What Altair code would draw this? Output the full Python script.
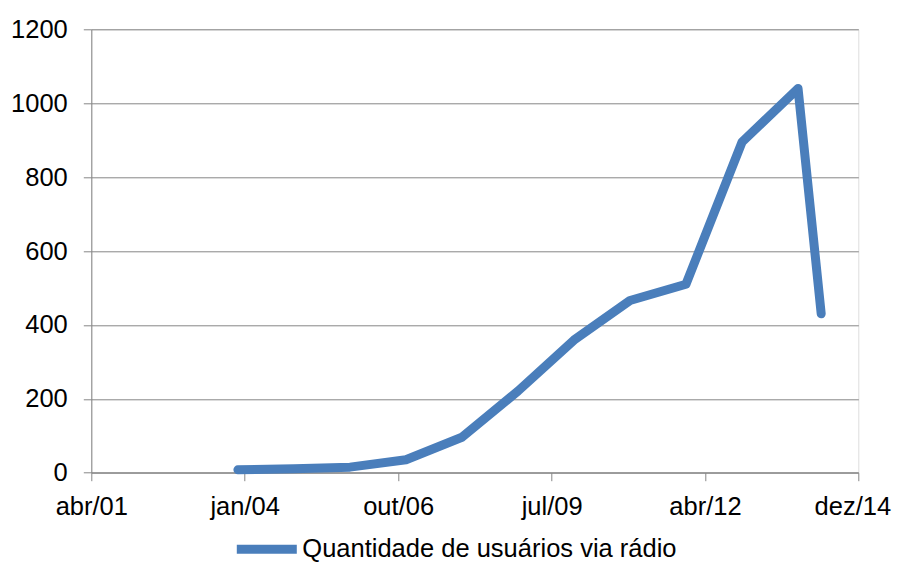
import altair as alt
import pandas as pd

# Data
DATES = ["2003-12-01", "2004-12-01", "2005-12-01", "2006-12-01", "2007-12-01",
         "2008-12-01", "2009-12-01", "2010-12-01", "2011-12-01", "2012-12-01",
         "2013-12-01", "2014-05-01"]
VALUES = [8, 11, 15, 35, 96, 221, 359, 466, 510, 895, 1040, 430]
SERIES = "Quantidade de usuários via rádio"

TICK_DATES = ["2001-04-19", "2004-01-14", "2006-10-11", "2009-07-08",
              "2012-04-03", "2014-12-29"]
MONTHS_PT = ["jan", "fev", "mar", "abr", "mai", "jun",
             "jul", "ago", "set", "out", "nov", "dez"]
Y_TICKS = [0, 200, 400, 600, 800, 1000, 1200]

BLUE = "#4A7EBB"
GRAY = "#868686"
FONT = "Liberation Sans"
FS = 25.5


def dt(s):
    y, m, d = (int(p) for p in s.split("-"))
    return alt.DateTime(year=y, month=m, date=d, utc=True)


df = pd.DataFrame({"data": DATES, "valor": VALUES, "serie": [SERIES] * len(DATES)})

month_arr = "[" + ",".join("'%s'" % m for m in MONTHS_PT) + "]"
label_expr = month_arr + "[utcmonth(datum.value)] + '/' + utcFormat(datum.value, '%y')"
last_year = int(TICK_DATES[-1][:4])

chart = (
    alt.Chart(df)
    .mark_line(strokeWidth=9, strokeCap="round", strokeJoin="round")
    .encode(
        x=alt.X(
            "data:T",
            scale=alt.Scale(type="utc", domain=[dt(TICK_DATES[0]), dt(TICK_DATES[-1])]),
            axis=alt.Axis(
                title=None,
                values=[dt(s) for s in TICK_DATES],
                labelExpr=label_expr,
                grid=False,
                domainColor=GRAY,
                tickColor=GRAY,
                tickSize=8,
                labelPadding=14,
                labelOffset={
                    "condition": {"test": "utcyear(datum.value) == %d" % last_year, "value": -6},
                    "value": 0,
                },
                labelFont=FONT,
                labelFontSize=FS,
                labelColor="black",
                labelOverlap=False,
                labelFlush=False,
            ),
        ),
        y=alt.Y(
            "valor:Q",
            scale=alt.Scale(domain=[0, 1200], nice=False),
            axis=alt.Axis(
                title=None,
                values=Y_TICKS,
                format="d",
                grid=True,
                gridColor=GRAY,
                gridWidth=1,
                domainColor=GRAY,
                tickColor=GRAY,
                tickSize=8,
                labelPadding=16,
                labelFont=FONT,
                labelFontSize=FS,
                labelColor="black",
            ),
        ),
        color=alt.Color(
            "serie:N",
            scale=alt.Scale(range=[BLUE]),
            legend=alt.Legend(
                title=None,
                orient="none",
                legendX=141,
                legendY=485.5,
                padding=0,
                symbolType="stroke",
                symbolSize=3600,
                symbolStrokeWidth=9,
                labelFont=FONT,
                labelFontSize=FS,
                labelColor="black",
                labelOffset=1,
                labelLimit=600,
            ),
        ),
    )
    .properties(
        width=767,
        height=443.4,
        autosize=alt.AutoSizeParams(type="none"),
        padding={"left": 83.3, "top": 21.3, "right": 33.7, "bottom": 89.3},
    )
    .configure_view(stroke=None)
    .configure(background="white")
)

chart.save("out.html", embed_options={"renderer": "svg", "actions": False})
